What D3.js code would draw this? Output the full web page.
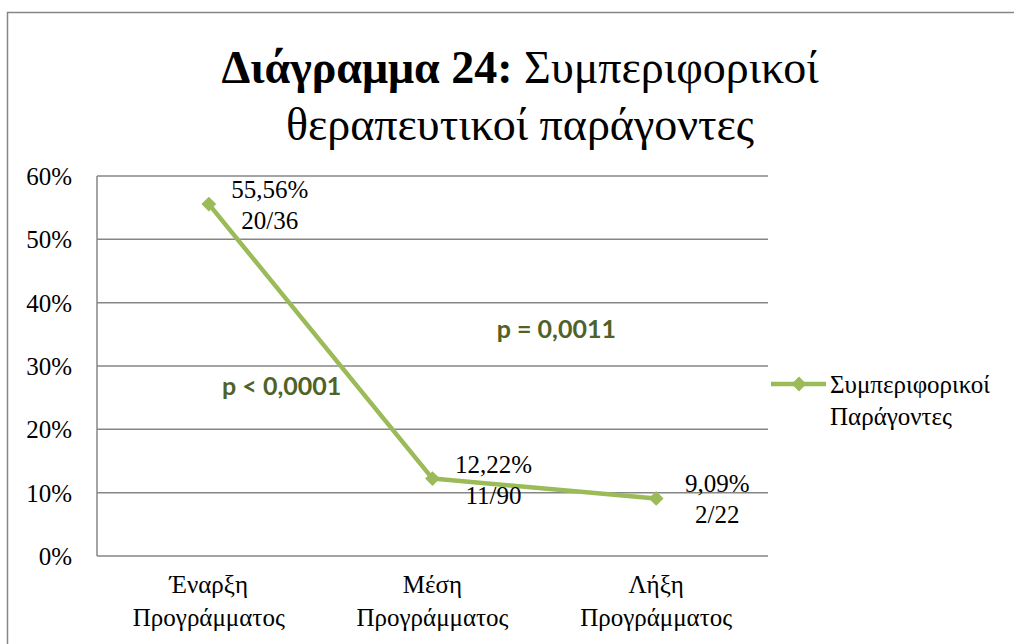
<!DOCTYPE html>
<html lang="el">
<head>
<meta charset="utf-8">
<script src="https://cdn.jsdelivr.net/npm/d3@7"></script>
</head>
<body style="margin:0">
<script>
// data
var categories = [["Έναρξη", "Προγράμματος"], ["Μέση", "Προγράμματος"], ["Λήξη", "Προγράμματος"]];
var values = [55.56, 12.22, 9.09];
var labels = ["55,56%", "12,22%", "9,09%"];
var counts = ["20/36", "11/90", "2/22"];
var yTicks = [0, 10, 20, 30, 40, 50, 60];
var seriesName = ["Συμπεριφορικοί", "Παράγοντες"];
var pTexts = ["p < 0,0001", "p = 0,0011"];
var pLevels = [25.4, 34.5];

const width = 1014,
    height = 644,
    green = "#9bbb59",
    grid = "#868686",
    times = "'Liberation Serif'";

const svg = d3.select("body").append("svg")
    .attr("width", width)
    .attr("height", height);

// chart frame
svg.append("rect")
    .attr("x", 7.5).attr("y", 12.5)
    .attr("width", 1020).attr("height", 700)
    .attr("fill", "none")
    .attr("stroke", grid)
    .attr("stroke-width", 1.5);

// title
var title = svg.append("text")
    .attr("text-anchor", "middle")
    .style("font-family", times)
    .style("font-size", "46px");
var t1 = title.append("tspan").attr("x", 520).attr("y", 83);
t1.append("tspan").style("font-weight", "bold").text("Διάγραμμα 24:");
t1.append("tspan").text(" Συμπεριφορικοί");
title.append("tspan").attr("x", 520).attr("y", 140).text("θεραπευτικοί παράγοντες");

const plot = { left: 97, right: 768, top: 176, bottom: 556 };

var x = d3.scaleBand()
    .domain(d3.range(categories.length))
    .range([plot.left, plot.right]);

var y = d3.scaleLinear()
    .domain([0, 60])
    .range([plot.bottom, plot.top]);

var cx = function(i) { return x(i) + x.bandwidth() / 2; };

// gridlines
svg.append("g")
    .selectAll("line")
    .data(yTicks)
    .enter().append("line")
        .attr("x1", plot.left).attr("x2", plot.right)
        .attr("y1", function(d) { return y(d); })
        .attr("y2", function(d) { return y(d); })
        .attr("stroke", grid)
        .attr("stroke-width", 1.5);

// y axis line
svg.append("line")
    .attr("x1", plot.left).attr("x2", plot.left)
    .attr("y1", plot.top).attr("y2", plot.bottom)
    .attr("stroke", grid)
    .attr("stroke-width", 1.5);

// y tick labels
svg.append("g")
    .selectAll("text")
    .data(yTicks)
    .enter().append("text")
        .attr("x", 72)
        .attr("y", function(d) { return y(d) + 9; })
        .attr("text-anchor", "end")
        .style("font-family", times)
        .style("font-size", "25px")
        .text(function(d) { return d + "%"; });

// category labels, one text per line
categories.forEach(function(c, i) {
    svg.append("g")
        .selectAll("text")
        .data(c)
        .enter().append("text")
            .attr("x", cx(i))
            .attr("y", function(s, j) { return 593 + j * 33; })
            .attr("text-anchor", "middle")
            .style("font-family", times)
            .style("font-size", "25px")
            .text(function(s) { return s; });
});

// line
var line = d3.line()
    .x(function(d, i) { return cx(i); })
    .y(function(d) { return y(d); });

svg.append("path")
    .datum(values)
    .attr("d", line)
    .attr("fill", "none")
    .attr("stroke", green)
    .attr("stroke-width", 4.5)
    .attr("stroke-linejoin", "round");

var diamond = d3.symbol().type(d3.symbolSquare).size(110);

svg.append("g")
    .selectAll("path")
    .data(values)
    .enter().append("path")
        .attr("d", diamond)
        .attr("transform", function(d, i) { return "translate(" + cx(i) + "," + y(d) + ") rotate(45)"; })
        .attr("fill", green);

// data labels
var dl = svg.append("g")
    .selectAll("text")
    .data(values)
    .enter().append("text")
        .attr("text-anchor", "middle")
        .style("font-family", times)
        .style("font-size", "25px");
dl.append("tspan")
    .attr("x", function(d, i) { return cx(i) + 61; })
    .attr("y", function(d) { return y(d) - 6; })
    .text(function(d, i) { return labels[i]; });
dl.append("tspan")
    .attr("x", function(d, i) { return cx(i) + 61; })
    .attr("y", function(d) { return y(d) + 25; })
    .text(function(d, i) { return counts[i]; });

// p-values
svg.append("g")
    .selectAll("text")
    .data(pTexts)
    .enter().append("text")
        .attr("text-anchor", "middle")
        .attr("x", function(d, i) { return (cx(i) + cx(i + 1)) / 2 + (i == 0 ? -39 : 12); })
        .attr("y", function(d, i) { return y(pLevels[i]); })
        .style("font-family", "'Lato'")
        .style("font-weight", "bold")
        .style("font-size", "25px")
        .attr("fill", "#4f6228")
        .text(function(d) { return d; });

// legend
var legend = svg.append("g")
    .attr("transform", "translate(771, 384)");
legend.append("line")
    .attr("x1", 0).attr("x2", 55)
    .attr("stroke", green)
    .attr("stroke-width", 4.5);
legend.append("path")
    .attr("d", diamond)
    .attr("transform", "translate(28,0) rotate(45)")
    .attr("fill", green);
legend.selectAll("text")
    .data(seriesName)
    .enter().append("text")
        .attr("x", 59)
        .attr("y", function(d, i) { return 9 + i * 32; })
        .style("font-family", times)
        .style("font-size", "25px")
        .text(function(d) { return d; });
</script>
</body>
</html>
